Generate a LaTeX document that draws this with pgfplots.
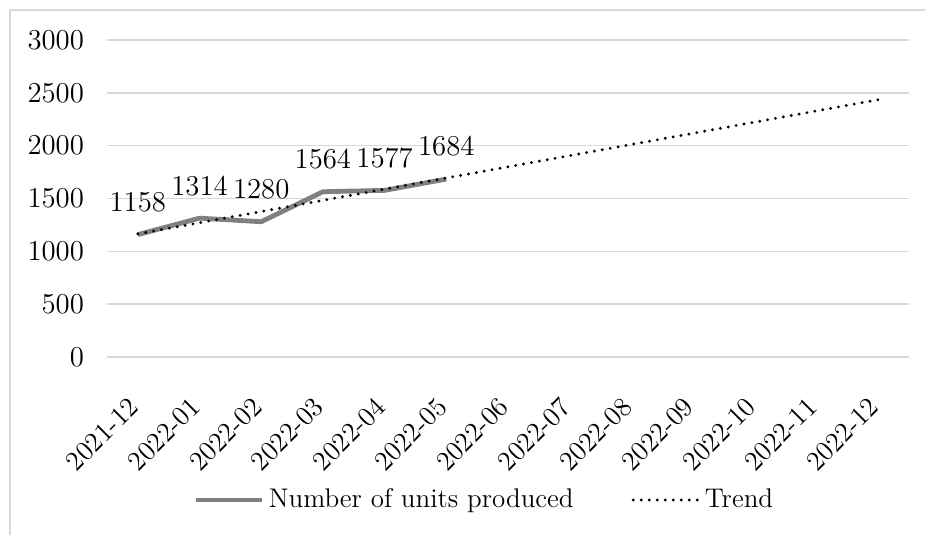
\documentclass[border=0pt]{standalone}
\usepackage{fontspec}
\usepackage{pgfplots}
\pgfplotsset{compat=1.18}
\definecolor{gridgray}{HTML}{D9D9D9}
\definecolor{seriesgray}{HTML}{808080}
\begin{document}
\begin{tikzpicture}
\path[use as bounding box] (0,0) rectangle (462.5pt,267.5pt);
% chart frame
\draw[gridgray, line width=0.8pt] (5pt,0) -- (5pt,262.5pt) -- (462.5pt,262.5pt);
\begin{axis}[
  at={(53.5pt,89pt)}, anchor=south west,
  scale only axis, width=401pt, height=158.5pt,
  font=\fontsize{15}{18}\selectfont,
  xmin=-0.5, xmax=12.5, ymin=0, ymax=3000,
  ytick={0,500,...,3000},
  xtick={0,...,12},
  xticklabels={2021-12,2022-01,2022-02,2022-03,2022-04,2022-05,2022-06,2022-07,2022-08,2022-09,2022-10,2022-11,2022-12},
  xticklabel style={rotate=45, anchor=north east, xshift=-14pt, yshift=-6.5pt,
    font=\fontsize{13.7}{16}\selectfont},
  yticklabel style={xshift=-8pt},
  /pgf/number format/1000 sep={},
  ymajorgrids, grid style={gridgray, line width=0.8pt},
  axis line style={draw=none}, major tick length=0pt,
  clip=false,
  legend columns=2,
  legend style={at={(0.472,-0.451)}, anchor=center, draw=none, fill=none,
    font=\fontsize{13.5}{16}\selectfont,
    /tikz/every even column/.append style={column sep=27pt}},
  legend cell align=left,
  legend image code/.code={\draw[#1] (0pt,0pt) -- (33pt,0pt);},
]
\addplot[seriesgray, line width=2.4pt, line join=round,
  nodes near coords, nodes near coords style={anchor=south, yshift=7pt, black,
    font=\fontsize{15}{18}\selectfont}]
  coordinates {(0,1158) (1,1314) (2,1280) (3,1564) (4,1577) (5,1684)};
\addlegendentry{Number of units produced}
\addplot[black, line width=1.6pt, line cap=round, dash pattern=on 0pt off 4pt]
  coordinates {(0,1165.0) (1,1270.8) (2,1376.6) (3,1482.4) (4,1588.2) (5,1694.0)
    (6,1799.8) (7,1905.6) (8,2011.4) (9,2117.2) (10,2223.0) (11,2328.8) (12,2434.6)};
\addlegendentry{Trend}
\end{axis}
\end{tikzpicture}
\end{document}
